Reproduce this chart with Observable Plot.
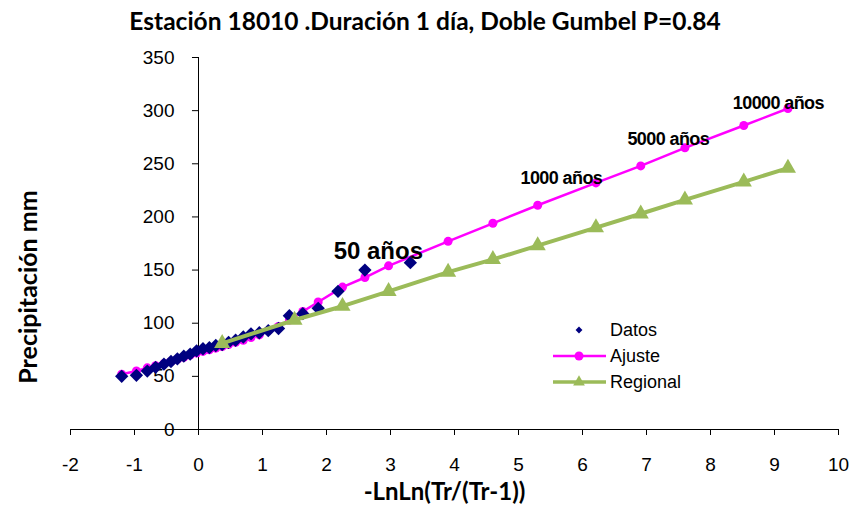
<!DOCTYPE html>
<html><head><meta charset="utf-8">
<script src="https://cdn.jsdelivr.net/npm/d3@7"></script>
<script src="https://cdn.jsdelivr.net/npm/@observablehq/plot@0.6"></script>
<style>
body{margin:0;background:#fff;width:851px;height:508px;overflow:hidden;position:relative;font-family:"Liberation Sans",Arial,sans-serif;}
#title{height:40px;}
#legend{position:absolute;left:548px;top:317px;font-size:18px;color:#000;}
#legend .row{height:26px;display:flex;align-items:center;}
#legend svg{width:62px;height:26px;}
</style></head><body>
<div id="title"></div>
<div id="chart"></div>
<div id="legend"></div>
<script>
// ---- data ----
const datosX = [3.31, 2.60, 2.18, 1.87, 1.63, 1.42, 1.25, 1.09, 0.95, 0.82, 0.70, 0.58, 0.47, 0.37, 0.27, 0.17, 0.07, -0.03, -0.13, -0.23, -0.33, -0.43, -0.54, -0.67, -0.80, -0.97, -1.20];
const datosY = [157, 150, 130, 114, 109, 107, 95, 93, 91, 90, 87, 84, 82, 80, 79, 77, 76, 74, 71, 69, 66.5, 64, 61.5, 58.5, 55, 51, 50];

const ajusteX = [-1.20, -0.97, -0.80, -0.67, -0.54, -0.43, -0.33, -0.23, -0.13, -0.03, 0.07, 0.17, 0.27, 0.37, 0.47, 0.58, 0.70, 0.82, 0.95, 1.09, 1.25, 1.42, 1.63, 1.87, 2.25, 2.60, 2.97, 3.90, 4.60, 5.30, 6.21, 6.91, 7.60, 8.52, 9.21];
const ajusteY = [52, 55, 58, 60, 62, 64, 66, 68, 70, 72, 73.5, 75, 76.5, 78, 80, 82, 84, 86.5, 89, 93, 97, 103, 111, 120, 134, 143, 154, 177, 194, 211, 232, 248, 265, 286, 302];

const regionalX = [0.37, 1.50, 2.25, 2.97, 3.90, 4.60, 5.30, 6.21, 6.91, 7.60, 8.52, 9.21];
const regionalY = [81, 103, 116, 130, 148, 160, 173, 190, 203, 216, 233, 246];

const labelText = ["50 años", "1000 años", "5000 años", "10000 años"];
const labelX = [2.81, 5.67, 7.34, 9.06];
const labelY = [168, 236, 273, 307];
const labelSize = [24, 18, 18, 18];

const xTicks = [-2, -1, 0, 1, 2, 3, 4, 5, 6, 7, 8, 9, 10];
const yTicks = [0, 50, 100, 150, 200, 250, 300, 350];

const seriesNames = ["Datos", "Ajuste", "Regional"];
const seriesColors = ["#000080", "#FF00FF", "#9BBB59"];

const titleText = "Estación 18010 .Duración 1 día, Doble Gumbel P=0.84";
const xTitle = "-LnLn(Tr/(Tr-1))";
const yTitle = "Precipitación mm";

// ---- build tables ----
const datos = datosX.map((x, i) => ({x, y: datosY[i]}));
const ajuste = ajusteX.map((x, i) => ({x, y: ajusteY[i]}));
const regional = regionalX.map((x, i) => ({x, y: regionalY[i]}));
const labels = labelText.map((t, i) => ({t, x: labelX[i], y: labelY[i], s: labelSize[i]}));

// ---- title ----
const tsvg = d3.select("#title").append("svg").attr("width", 851).attr("height", 40);
tsvg.append("text").attr("x", 425).attr("y", 30).attr("text-anchor", "middle")
  .attr("font-family", "Lato, 'Open Sans', sans-serif").attr("font-weight", "bold")
  .attr("font-size", 24.5).attr("fill", "#000").text(titleText);

const font = "'Liberation Sans', Arial, sans-serif";

const plot = Plot.plot({
  width: 851, height: 468,
  marginLeft: 70, marginRight: 13, marginTop: 17, marginBottom: 79,
  x: {domain: [-2, 10], axis: null},
  y: {domain: [0, 350], axis: null},
  style: {fontFamily: font, background: "white", overflow: "visible", color: "black"},
  marks: [
    // axes
    Plot.ruleY([0], {stroke: "black", strokeWidth: 1}),
    Plot.ruleX([0], {y1: 0, y2: 350, stroke: "black", strokeWidth: 1}),
    Plot.axisX({ticks: xTicks, tickSize: 6, tickPadding: 22, fontSize: 19, label: null, stroke: "black", tickFormat: d => String(d)}),
    Plot.ruleY(yTicks, {y: d => d, x1: -0.094, x2: 0, stroke: "black", strokeWidth: 1}),
    Plot.text(yTicks, {x: 0, y: d => d, text: d => String(d), textAnchor: "end", dx: -24, fontSize: 19, fill: "black"}),
    Plot.text([xTitle], {frameAnchor: "bottom", dx: -10, dy: 70, fontSize: 24, fontWeight: "bold", fontFamily: "Lato, sans-serif", fill: "black"}),
    // series
    Plot.line(ajuste, {x: "x", y: "y", stroke: seriesColors[1], strokeWidth: 2.5}),
    Plot.dot(ajuste, {x: "x", y: "y", r: 4.5, fill: seriesColors[1], stroke: "none"}),
    Plot.dot(datos, {x: "x", y: "y", symbol: "diamond2", r: 6, fill: seriesColors[0], stroke: "none"}),
    Plot.line(regional, {x: "x", y: "y", stroke: seriesColors[2], strokeWidth: 4}),
    Plot.dot(regional, {x: "x", y: "y", symbol: "triangle", r: 6, fill: seriesColors[2], stroke: "none"}),
    // annotations
    Plot.text(labels, {x: "x", y: "y", text: "t", fontSize: d => d.s, fontWeight: "bold", fill: "black", fontFamily: font})
  ]
});
document.getElementById("chart").appendChild(plot);
// letter-spacing tweak for small annotation labels
d3.select(plot).selectAll("text").filter(function(){ return /\d años/.test(this.textContent) && this.textContent !== "50 años"; })
  .attr("letter-spacing", "-0.6");
// y-axis title (rotated), placed left of the tick labels
d3.select(plot).append("text")
  .attr("transform", "translate(27,247) rotate(-90)")
  .attr("text-anchor", "middle").attr("dominant-baseline", "central")
  .attr("font-family", "Lato, sans-serif").attr("font-weight", "bold").attr("font-size", 25)
  .attr("fill", "black").text(yTitle);

// ---- legend ----
const leg = d3.select("#legend");
seriesNames.forEach((name, i) => {
  const row = leg.append("div").attr("class", "row");
  const s = row.append("svg");
  if (i > 0) s.append("line").attr("x1", 5).attr("x2", 58).attr("y1", 13).attr("y2", 13)
      .attr("stroke", seriesColors[i]).attr("stroke-width", i === 2 ? 3.5 : 2.5);
  const sym = i === 0 ? d3.symbolDiamond2 : i === 1 ? d3.symbolCircle : d3.symbolTriangle;
  const size = i === 0 ? 30 : i === 1 ? 64 : 60;
  s.append("path").attr("d", d3.symbol(sym, size)()).attr("transform", "translate(31,13)").attr("fill", seriesColors[i]);
  row.append("span").text(name);
});
</script>
</body></html>
